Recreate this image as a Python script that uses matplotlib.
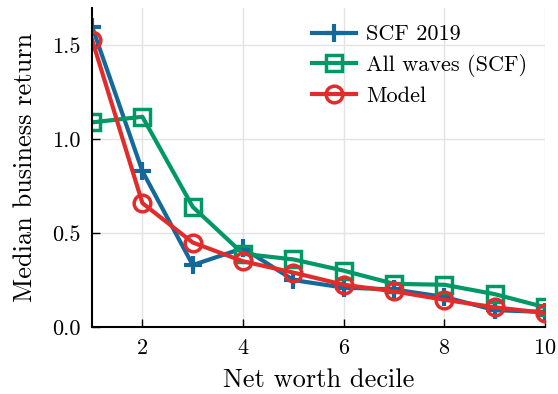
import numpy as np
import matplotlib
matplotlib.use("Agg")
import matplotlib.pyplot as plt

plt.rcParams['font.family'] = 'serif'
plt.rcParams['font.serif'] = ['cmr10', 'DejaVu Serif']
plt.rcParams['mathtext.fontset'] = 'cm'
plt.rcParams['axes.formatter.use_mathtext'] = True

# data
deciles = [1, 2, 3, 4, 5, 6, 7, 8, 9, 10]
scf_2019 = [1.60, 0.83, 0.33, 0.42, 0.25, 0.21, 0.20, 0.16, 0.09, 0.08]
all_waves = [1.09, 1.12, 0.64, 0.39, 0.36, 0.30, 0.23, 0.225, 0.175, 0.105]
model = [1.53, 0.66, 0.45, 0.35, 0.29, 0.225, 0.19, 0.145, 0.105, 0.075]

fig = plt.figure(figsize=(5.58, 3.94), dpi=100)
ax = fig.add_axes([0.165, 0.17, 0.812, 0.81])

lw = 3.0
ax.plot(deciles, scf_2019, color='#14699a', lw=lw, marker='+', ms=13, mew=3,
        label='SCF 2019')
ax.plot(deciles, all_waves, color='#009966', lw=lw, marker='s', ms=12, mew=2.5,
        mfc='none', label='All waves (SCF)')
ax.plot(deciles, model, color='#e12c2c', lw=lw, marker='o', ms=12, mew=2.5,
        mfc='none', label='Model')

ax.set_xlim(1, 10)
ax.set_ylim(0, 1.7)
ax.set_xticks([2, 4, 6, 8, 10])
ax.set_yticks([0.0, 0.5, 1.0, 1.5])
ax.set_yticklabels(['0.0', '0.5', '1.0', '1.5'])
ax.grid(True, color='#e3e3e3', lw=1)
ax.set_axisbelow(True)
for s in ['top', 'right']:
    ax.spines[s].set_visible(False)
for s in ['left', 'bottom']:
    ax.spines[s].set_linewidth(1.5)
ax.tick_params(direction='in', length=6, width=1, labelsize=16, pad=8)

ax.set_xlabel('Net worth decile', fontsize=19, labelpad=8)
ax.set_ylabel('Median business return', fontsize=19, labelpad=11)

ax.legend(loc='upper left', bbox_to_anchor=(0.465, 0.975), frameon=False,
          fontsize=16, handlelength=2.0, handletextpad=0.45, labelspacing=0.42,
          borderaxespad=0)

fig.savefig('out.png', dpi=100)
